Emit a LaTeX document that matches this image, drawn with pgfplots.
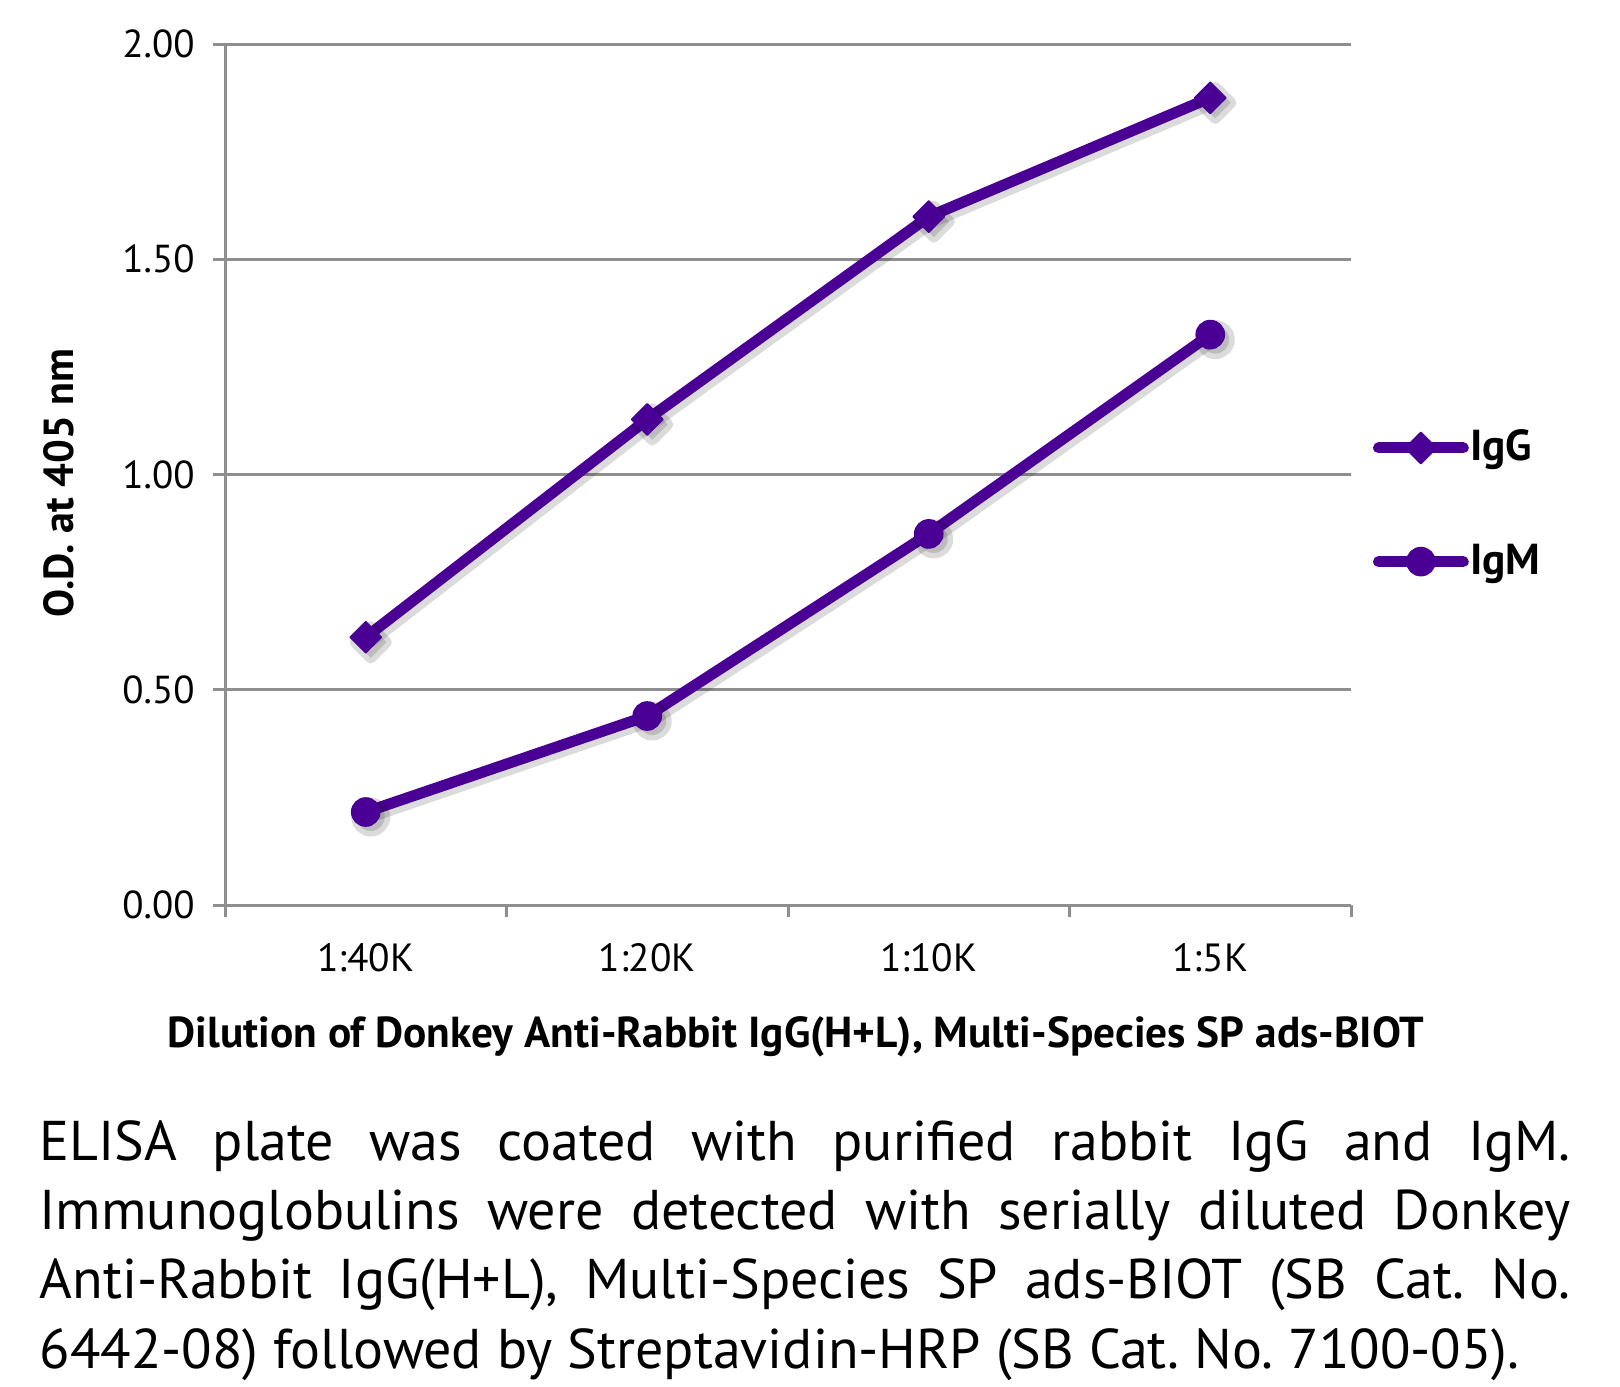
\documentclass[border=0pt]{standalone}
\usepackage{pgfplots}
\pgfplotsset{compat=1.18}
\usepackage{fontspec}
\setmainfont{PT Sans}
\definecolor{ser}{HTML}{4A0094}
\definecolor{gr}{HTML}{8E8E8E}
\pgfplotstableread{
x igg igm
0 0.622 0.216
1 1.128 0.439
2 1.599 0.862
3 1.875 1.325
}\datatab
\begin{document}
\begin{tikzpicture}
\useasboundingbox (0,0) rectangle (486pt,415.8pt);
\begin{axis}[
  at={(67.5pt,144.3pt)}, anchor=south west,
  scale only axis, width=337.8pt, height=258.3pt,
  xmin=-0.5, xmax=3.5, ymin=0, ymax=2,
  axis lines*=left,
  axis line style={draw=gr, line width=0.9pt},
  ytick={0,0.5,1,1.5,2},
  yticklabel style={/pgf/number format/fixed, /pgf/number format/fixed zerofill, /pgf/number format/precision=2, /pgf/number format/assume math mode=true},
  yticklabel style={font=\fontsize{11.7}{13}\selectfont, xshift=-2.0pt},
  ymajorgrids, major grid style={draw=gr, line width=0.9pt},
  xtick={-0.5,0.5,1.5,2.5,3.5},
  xticklabels={1:40K,1:20K,1:10K,1:5K},
  x tick label as interval,
  xticklabel style={font=\fontsize{11.8}{13}\selectfont, yshift=-4.5pt},
  tick align=outside, major tick length=3.6pt,
  tick style={draw=gr, line width=0.9pt},
  every axis x label/.style={at={(axis description cs:0.5,0)}, anchor=center, xshift=2.4pt, yshift=-39.4pt},
  every axis y label/.style={at={(axis description cs:0,0.5)}, xshift=-49.8pt, yshift=-2.5pt, rotate=90, anchor=center},
  xlabel={\fontsize{13}{14}\selectfont\bfseries Dilution of Donkey Anti-Rabbit IgG(H+L), Multi-Species SP ads-BIOT},
  ylabel={\fontsize{12.6}{14}\selectfont\bfseries O.D. at 405 nm},
  legend style={draw=none, fill=none, at={(1.019,0.465)}, anchor=west, row sep=22.4pt,
    font=\fontsize{13}{15}\selectfont\bfseries, inner sep=0pt, nodes={inner sep=0.5pt}},
  legend cell align=left,
  legend image code/.code={\draw[mark repeat=2,mark phase=2,#1] plot coordinates {(0pt,0pt)(12.7pt,0pt)(25.4pt,0pt)};},
  clip=false,
]
\addplot[draw=black, opacity=0.14, line width=3.3pt, line cap=round, line join=round, shift={(1.5pt,-1.5pt)}, mark=square*, mark size=3.3pt, mark options={rotate=45, draw=black, fill=black}, forget plot] table[x=x,y=igg] {\datatab};
\addplot[draw=black, opacity=0.14, line width=3.3pt, line cap=round, line join=round, shift={(1.5pt,-1.5pt)}, mark=*, mark size=4.2pt, mark options={draw=black, fill=black}, forget plot] table[x=x,y=igm] {\datatab};
\addplot[draw=ser, line width=3.3pt, line cap=round, line join=round, mark=square*, mark size=3.3pt, mark options={rotate=45, draw=ser, fill=ser, line width=0.5pt}] table[x=x,y=igg] {\datatab};
\addlegendentry{IgG}
\addplot[draw=ser, line width=3.3pt, line cap=round, line join=round, mark=*, mark size=4.2pt, mark options={draw=ser, fill=ser, line width=0.5pt}] table[x=x,y=igm] {\datatab};
\addlegendentry{IgM}
\end{axis}
\node[anchor=north west, inner sep=0pt, text width=459.3pt, align=justify, font=\fontsize{16.8}{20.75}\selectfont] at (11.7pt,79.8pt) {\frenchspacing\hyphenpenalty=10000\tolerance=10000 ELISA plate was coated with purified rabbit IgG and IgM.\linebreak Immunoglobulins were detected with serially diluted Donkey\linebreak Anti-Rabbit IgG(H+L), Multi-Species SP ads-BIOT (SB Cat. No.\linebreak 6442-08) followed by Streptavidin-HRP (SB Cat. No. 7100-05).};
\end{tikzpicture}
\end{document}
